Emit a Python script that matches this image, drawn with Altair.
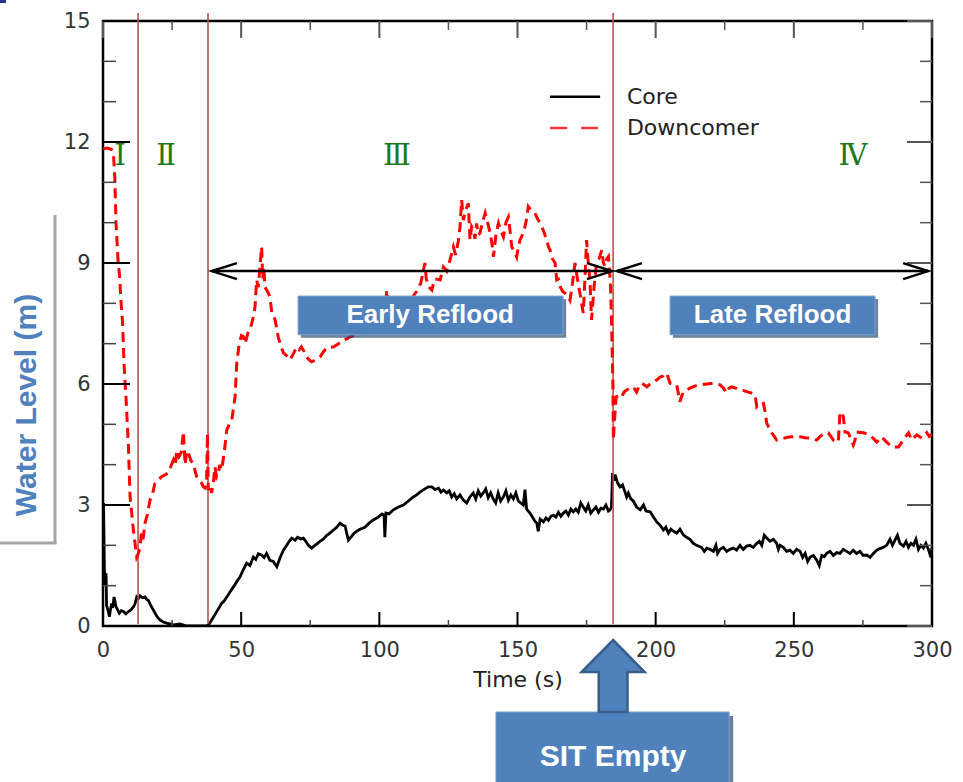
import altair as alt
import pandas as pd

W, H = 829, 605

# ---------------- data ----------------
core_t = [0.0, 0.2, 0.5, 0.8, 1.1, 1.3, 1.8, 2.3, 2.7, 3.1, 3.5, 4.0, 4.7, 5.3, 5.9, 6.6, 7.4, 8.3, 9.2, 10.1,
          11.0, 11.6, 12.2, 12.8, 13.4, 14.3, 15.2, 15.8, 16.4, 17.0, 17.6, 18.2, 18.8, 19.7, 20.6, 21.8, 23.0,
          24.2, 25.5, 27.9, 30.3, 37.5, 38.4, 39.3, 40.2, 41.1, 42.0, 42.9, 43.8, 44.8, 46.0, 47.2, 48.4, 49.6,
          50.8, 52.0, 53.2, 54.4, 55.3, 56.2, 57.4, 58.3, 59.2, 60.4, 61.6, 62.9, 64.1, 65.3, 66.5, 67.4, 68.3,
          69.5, 70.4, 71.6, 72.5, 73.4, 74.3, 75.5, 76.7, 77.6, 78.5, 79.7, 81.0, 82.2, 83.4, 84.6, 85.8, 86.7,
          87.6, 88.2, 88.8, 89.7, 90.6, 91.8, 93.0, 94.8, 96.3, 97.8, 99.6, 101.0, 101.7, 102.0, 102.4, 103.5,
          105.1, 106.9, 108.7, 110.5, 112.3, 113.5, 114.7, 116.5, 117.7, 119.0, 120.2, 121.4, 122.3, 123.2,
          124.4, 125.3, 126.2, 127.1, 128.0, 129.2, 130.4, 131.6, 132.8, 134.0, 134.9, 135.8, 136.7, 137.6,
          138.5, 139.4, 140.3, 141.2, 142.1, 143.0, 143.9, 144.9, 145.8, 146.7, 147.6, 148.5, 149.4, 150.3,
          151.2, 152.1, 152.7, 153.3, 153.9, 154.5, 155.4, 156.3, 157.0, 157.5, 158.2, 159.4, 160.3, 161.2,
          162.1, 163.0, 163.9, 164.8, 165.7, 166.6, 167.5, 168.4, 169.3, 170.2, 171.1, 172.0, 172.9, 173.8,
          174.7, 175.6, 176.5, 177.5, 178.4, 179.3, 180.2, 181.1, 182.0, 182.9, 183.5, 184.0, 184.4, 184.9,
          185.3, 186.2, 187.1, 188.0, 189.0, 189.5, 190.1, 191.0, 191.9, 193.1, 194.4, 195.6, 196.5, 198.0,
          199.2, 200.4, 201.6, 202.8, 203.7, 204.6, 205.5, 206.4, 207.6, 208.8, 210.0, 211.2, 212.4, 213.6,
          214.8, 216.6, 217.6, 218.5, 219.7, 220.9, 221.8, 222.4, 223.3, 224.5, 225.7, 226.9, 228.1, 229.3,
          230.5, 231.7, 232.9, 234.1, 235.3, 236.6, 237.5, 238.4, 239.3, 240.2, 241.4, 242.6, 243.8, 244.4,
          245.0, 246.2, 247.4, 248.6, 249.8, 251.0, 252.3, 253.2, 254.1, 255.0, 255.9, 257.1, 258.3, 259.2,
          260.1, 261.0, 261.9, 263.1, 264.3, 265.5, 266.7, 267.9, 269.1, 270.3, 271.5, 272.7, 273.9, 275.1,
          276.4, 277.6, 278.8, 280.0, 281.2, 282.4, 283.6, 284.8, 285.7, 286.6, 287.5, 288.4, 289.7, 290.6,
          291.5, 292.4, 293.3, 294.2, 295.1, 296.0, 296.9, 297.8, 298.7, 299.6, 300.0]
core_v = [1.3, 3.05, 1.4, 1.0, 1.31, 0.5, 0.4, 0.23, 0.4, 0.56, 0.45, 0.72, 0.48, 0.4, 0.32, 0.38, 0.36, 0.3,
          0.36, 0.4, 0.47, 0.55, 0.72, 0.68, 0.75, 0.7, 0.72, 0.66, 0.64, 0.55, 0.47, 0.4, 0.32, 0.22, 0.15,
          0.1, 0.07, 0.05, 0.03, 0.05, 0.0, 0.0, 0.05, 0.15, 0.25, 0.35, 0.45, 0.56, 0.62, 0.72, 0.85, 0.97,
          1.1, 1.22, 1.4, 1.56, 1.5, 1.71, 1.65, 1.79, 1.76, 1.7, 1.8, 1.63, 1.6, 1.47, 1.7, 1.88, 2.0, 2.1,
          2.18, 2.13, 2.2, 2.16, 2.18, 2.1, 2.0, 1.93, 2.0, 2.05, 2.1, 2.15, 2.25, 2.31, 2.38, 2.45, 2.55, 2.5,
          2.48, 2.3, 2.13, 2.2, 2.28, 2.35, 2.4, 2.45, 2.55, 2.63, 2.7, 2.78, 2.75, 2.2, 2.8, 2.78, 2.88, 2.95,
          3.0, 3.1, 3.2, 3.25, 3.32, 3.4, 3.45, 3.45, 3.38, 3.42, 3.32, 3.37, 3.3, 3.35, 3.2, 3.28, 3.15, 3.25,
          3.12, 3.05, 3.2, 3.3, 3.15, 3.35, 3.22, 3.3, 3.4, 3.18, 3.3, 3.15, 3.05, 3.3, 3.1, 3.2, 3.35, 3.12,
          3.25, 3.15, 3.3, 3.1, 3.05, 3.0, 3.38, 2.9, 2.85, 2.8, 2.7, 2.6, 2.55, 2.35, 2.65, 2.58, 2.68, 2.62,
          2.72, 2.75, 2.7, 2.82, 2.72, 2.8, 2.85, 2.75, 2.9, 2.83, 2.9, 2.82, 3.05, 2.95, 2.85, 3.0, 2.8, 2.88,
          2.95, 2.82, 2.92, 2.9, 3.0, 2.85, 2.88, 2.95, 3.79, 3.6, 3.75, 3.55, 3.45, 3.5, 3.3, 3.2, 3.3, 3.15,
          3.1, 2.95, 2.88, 3.0, 2.85, 2.83, 2.7, 2.58, 2.5, 2.38, 2.45, 2.3, 2.4, 2.35, 2.3, 2.4, 2.26, 2.2,
          2.15, 2.05, 2.0, 1.95, 1.85, 1.93, 1.9, 1.85, 2.0, 1.8, 1.9, 1.95, 1.85, 1.9, 1.93, 1.88, 2.0, 1.9,
          1.98, 2.0, 1.95, 2.05, 2.1, 2.0, 2.25, 2.18, 2.1, 2.15, 2.05, 1.9, 2.0, 1.95, 1.85, 1.88, 1.8, 1.9,
          1.85, 1.7, 1.8, 1.6, 1.71, 1.75, 1.63, 1.5, 1.75, 1.72, 1.8, 1.85, 1.75, 1.82, 1.8, 1.9, 1.85, 1.8,
          1.88, 1.8, 1.85, 1.75, 1.76, 1.7, 1.8, 1.88, 1.92, 1.95, 2.0, 2.15, 2.0, 2.13, 2.25, 2.05, 1.98,
          2.1, 1.95, 2.05, 2.0, 2.15, 1.9, 2.0, 1.93, 2.05, 1.9, 1.7, 1.95]

dc_t = [0.0, 1.5, 3.0, 3.8, 4.3, 4.7, 5.5, 6.0, 6.4, 7.1, 7.6, 8.3, 9.2, 9.8, 11.0, 12.2, 12.8, 13.4, 13.9,
        14.5, 15.2, 16.0, 17.0, 18.0, 18.8, 20.0, 21.2, 22.5, 23.6, 24.5, 25.5, 26.2, 26.7, 27.5, 28.3, 29.1,
        29.7, 30.3, 30.9, 31.8, 32.7, 33.3, 33.9, 34.8, 35.7, 36.3, 36.9, 37.5, 37.8, 38.1, 38.7, 39.3, 40.0,
        40.5, 41.1, 41.7, 42.3, 42.9, 43.5, 44.2, 44.8, 45.7, 46.6, 47.2, 47.8, 48.4, 49.3, 50.1, 50.8, 51.4,
        52.0, 52.6, 53.2, 53.8, 54.4, 55.0, 55.6, 56.2, 56.8, 57.4, 57.8, 58.2, 58.6, 59.5, 60.4, 61.1, 62.3,
        63.4, 64.3, 65.3, 66.5, 67.7, 68.9, 70.1, 71.0, 71.8, 72.8, 73.7, 74.6, 75.5, 77.0, 78.5, 79.8, 81.0,
        82.2, 83.4, 85.2, 87.0, 88.2, 89.4, 91.0, 93.0, 94.8, 96.6, 98.5, 100.5, 102.0, 102.7, 103.5, 105.5,
        107.5, 109.5, 111.5, 113.5, 115.0, 116.5, 117.0, 118.0, 119.0, 120.0, 120.8, 122.0, 123.2, 124.4,
        125.6, 126.8, 127.6, 128.6, 129.2, 129.8, 130.4, 131.2, 132.2, 132.8, 133.4, 134.0, 134.6, 135.2,
        135.8, 136.4, 137.3, 138.3, 139.2, 140.1, 140.7, 141.3, 142.2, 143.1, 144.0, 144.9, 145.8, 146.7,
        147.3, 147.9, 148.8, 149.7, 150.3, 150.9, 151.8, 152.7, 153.3, 153.9, 155.0, 156.3, 157.2, 158.2,
        159.4, 160.6, 161.2, 161.8, 162.7, 163.6, 164.2, 164.8, 165.4, 166.3, 167.2, 168.1, 169.0, 169.9,
        170.8, 171.7, 172.6, 173.2, 173.8, 174.4, 175.0, 175.6, 176.2, 176.8, 177.7, 178.6, 179.5, 180.5,
        181.1, 181.7, 182.3, 182.9, 183.3, 183.7, 184.1, 184.5, 184.7, 185.0, 185.3, 185.7, 186.5, 187.1,
        187.8, 188.6, 189.5, 190.7, 191.9, 193.1, 194.0, 195.0, 196.8, 198.0, 199.2, 200.4, 201.6, 202.8,
        204.0, 205.2, 206.4, 207.6, 208.8, 209.4, 210.0, 211.2, 212.4, 214.2, 216.1, 218.5, 220.9, 222.1,
        223.3, 224.5, 225.7, 226.6, 227.5, 229.0, 230.5, 231.7, 232.9, 234.5, 236.0, 236.6, 237.8, 239.0,
        239.6, 240.2, 241.1, 242.0, 242.9, 243.8, 245.0, 246.2, 247.7, 249.2, 250.8, 252.3, 254.1, 255.9,
        257.1, 258.3, 259.5, 260.7, 261.6, 262.5, 263.4, 264.3, 265.2, 266.1, 266.7, 267.3, 267.9, 268.5,
        269.1, 269.7, 270.6, 271.5, 272.1, 272.7, 274.0, 275.2, 276.4, 277.6, 278.8, 280.0, 280.9, 281.8,
        282.7, 283.6, 284.5, 285.4, 286.6, 287.9, 288.5, 289.1, 290.3, 291.5, 292.1, 292.7, 293.6, 294.5,
        295.4, 296.3, 297.2, 298.1, 299.0, 300.0]
dc_v = [11.83, 11.85, 11.82, 11.7, 11.06, 10.0, 9.0, 8.7, 8.16, 7.5, 6.5, 5.7, 4.45, 3.2, 2.38, 1.71, 1.8,
        1.96, 2.3, 2.15, 2.55, 2.75, 3.12, 3.3, 3.54, 3.62, 3.7, 3.75, 3.79, 3.95, 4.12, 4.0, 4.36, 4.2, 4.3,
        4.82, 4.0, 4.35, 4.29, 4.1, 4.04, 3.85, 3.7, 3.6, 3.54, 3.45, 3.42, 3.6, 4.78, 3.37, 3.5, 3.3, 3.6,
        3.95, 3.7, 3.79, 4.0, 3.87, 4.12, 4.5, 4.86, 5.0, 5.1, 5.4, 5.68, 6.52, 7.0, 7.2, 7.17, 7.0, 7.15,
        7.3, 7.34, 7.5, 7.66, 7.9, 8.58, 8.4, 8.9, 9.4, 8.6, 8.9, 8.4, 8.3, 8.16, 7.76, 7.59, 7.17, 6.95,
        6.77, 6.7, 6.6, 6.75, 6.92, 6.85, 6.92, 6.8, 6.67, 6.6, 6.55, 6.6, 6.67, 6.8, 6.9, 6.92, 6.92, 7.0,
        7.09, 7.12, 7.17, 7.2, 7.25, 7.3, 7.26, 7.4, 7.6, 7.8, 8.33, 7.8, 7.75, 7.7, 7.9, 8.1, 8.3, 8.5,
        9.0, 8.6, 8.4, 8.33, 8.6, 8.6, 8.58, 8.9, 8.8, 9.08, 9.4, 9.2, 9.55, 9.9, 10.56, 10.06, 10.3, 10.48,
        9.57, 9.9, 9.82, 9.6, 9.98, 9.7, 9.74, 10.0, 10.24, 10.0, 9.74, 9.5, 9.15, 9.7, 9.99, 9.8, 9.65,
        10.0, 10.14, 9.8, 9.4, 9.3, 9.15, 9.4, 9.57, 9.7, 9.9, 10.1, 10.4, 10.3, 10.24, 10.1, 9.99, 9.8,
        9.57, 9.4, 9.32, 9.1, 9.0, 8.58, 8.6, 8.42, 8.3, 8.25, 8.2, 8.08, 8.5, 9.0, 8.6, 8.25, 8.0, 7.76,
        8.6, 9.57, 9.0, 8.6, 7.59, 8.4, 9.0, 9.1, 9.32, 9.0, 8.92, 9.1, 9.16, 8.8, 8.4, 7.34, 6.1, 4.61,
        5.0, 5.28, 5.68, 5.7, 5.65, 5.7, 5.8, 5.85, 5.9, 5.93, 5.8, 5.95, 6.02, 5.93, 6.0, 6.05, 6.1, 6.17,
        6.2, 6.27, 6.02, 6.0, 5.98, 5.56, 5.7, 5.8, 5.85, 5.9, 5.95, 5.98, 6.0, 6.02, 6.0, 5.98, 5.9, 5.78,
        5.9, 5.93, 5.9, 5.85, 5.84, 5.81, 5.78, 5.73, 5.43, 5.5, 5.52, 5.31, 5.03, 4.9, 4.79, 4.7, 4.61,
        4.63, 4.65, 4.68, 4.69, 4.7, 4.69, 4.67, 4.66, 4.64, 4.61, 4.7, 4.76, 4.78, 4.79, 4.7, 4.61, 4.58,
        4.56, 5.31, 5.25, 5.2, 4.81, 4.8, 4.79, 4.65, 4.49, 4.6, 4.81, 4.8, 4.79, 4.76, 4.73, 4.65, 4.56,
        4.62, 4.69, 4.62, 4.56, 4.5, 4.44, 4.44, 4.44, 4.5, 4.56, 4.68, 4.79, 4.7, 4.61, 4.68, 4.74, 4.7,
        4.66, 4.72, 4.79, 4.7, 4.75]

phase_t = [12.7, 38.0, 184.6]
numeral_labels = ["Ⅰ", "Ⅱ", "Ⅲ", "Ⅳ"]
numeral_t = [6.2, 22.8, 106.4, 271.4]
numeral_v = [11.65, 11.65, 11.65, 11.65]

arrow_start = [39.4, 186.0]
arrow_end = [184.2, 298.6]
arrow_v = 8.8

box_labels = ["Early Reflood", "Late Reflood"]
box_t1 = [70.6, 205.2]
box_t2 = [166.5, 279.4]
box_v1 = [7.22, 7.22]
box_v2 = [8.18, 8.18]
box_tc = [118.4, 242.3]
box_vc = [7.71, 7.71]

sit_t = 184.6
sit_t1, sit_t2 = 142.2, 226.6

legend_names = ["Core", "Downcomer"]
legend_v = [13.12, 12.35]
legend_t1, legend_t2, legend_text_t = 161.8, 179.9, 189.6

x_major = [0, 50, 100, 150, 200, 250, 300]
x_minor = [25, 75, 125, 175, 225, 275]
y_major = [0, 3, 6, 9, 12, 15]
y_minor = [1, 2, 4, 5, 7, 8, 10, 11, 13, 14]

# ---------------- chart ----------------
xs = alt.Scale(domain=[0, 300], nice=False, zero=False)
ys = alt.Scale(domain=[0, 15], nice=False, zero=False)
BLUE = "#4f81bd"
DARK = "#385d8a"
LABEL_FONT = "DejaVu Sans"

XAX = alt.Axis(values=x_major, ticks=False, domain=False, grid=False, labelFlush=False,
               labelFont=LABEL_FONT, labelFontSize=21, labelColor="#333", labelPadding=13,
               title="Time (s)", titleFont=LABEL_FONT, titleFontSize=22, titleFontWeight="normal",
               titleColor="#222", titlePadding=9)
YAX = alt.Axis(values=y_major, ticks=False, domain=False, grid=False, labelFlush=False,
               labelFont=LABEL_FONT, labelFontSize=21, labelColor="#333", labelPadding=13, title="")


def X(field):
    return alt.X(field, type="quantitative", scale=xs, axis=XAX)


def Y(field):
    return alt.Y(field, type="quantitative", scale=ys, axis=YAX)


core_df = pd.DataFrame({"t": core_t, "v": core_v})
dc_df = pd.DataFrame({"t": dc_t, "v": dc_v})

core = alt.Chart(core_df).mark_line(color="black", strokeWidth=2.8, clip=True).encode(x=X("t"), y=Y("v"))
dc = alt.Chart(dc_df).mark_line(color="#ff0000", strokeWidth=3, strokeDash=[10, 6], clip=True).encode(
    x=X("t"), y=Y("v"))


def xtick(vals, length, width, color, top):
    df = pd.DataFrame({"t": vals})
    y0, y1 = (0, length) if top else (H, H - length)
    return alt.Chart(df).mark_rule(color=color, strokeWidth=width).encode(
        x=X("t"), y=alt.value(y0), y2=alt.value(y1))


def ytick(vals, length, width, color, right):
    df = pd.DataFrame({"v": vals})
    x0, x1 = (W, W - length) if right else (0, length)
    return alt.Chart(df).mark_rule(color=color, strokeWidth=width).encode(
        y=Y("v"), x=alt.value(x0), x2=alt.value(x1))


ticks = [
    xtick(x_major, 14, 2, "black", False), xtick(x_minor, 6, 1.5, "#444", False),
    xtick(x_major, 17, 2, "#555", True), xtick(x_minor, 9, 1.5, "#555", True),
    ytick(y_major, 27, 2, "black", False), ytick(y_minor, 13, 1.5, "#444", False),
    ytick(y_major, 25, 2, "#555", True), ytick(y_minor, 12, 1.5, "#555", True),
]

phase = alt.Chart(pd.DataFrame({"t": phase_t})).mark_rule(color="#c0504d", strokeWidth=1.6).encode(
    x=X("t"), y=alt.value(-8), y2=alt.value(H - 2))

numerals = alt.Chart(pd.DataFrame({"t": numeral_t, "v": numeral_v, "lab": numeral_labels})).mark_text(
    font="DejaVu Serif", fontSize=29, color="#1a7a1a", align="center", baseline="middle").encode(
    x=X("t"), y=Y("v"), text="lab:N")

arr_df = pd.DataFrame({"t1": arrow_start, "t2": arrow_end, "v": [arrow_v, arrow_v]})
arr_lines = alt.Chart(arr_df).mark_rule(color="black", strokeWidth=2.5).encode(
    x=X("t1"), x2="t2:Q", y=Y("v"))
left_heads = alt.Chart(pd.DataFrame({"t": arrow_start, "v": [arrow_v, arrow_v]})).mark_point(
    shape="M1,-0.32L0,0L1,0.32", filled=False, stroke="black", strokeWidth=2.5, size=2500, opacity=1).encode(
    x=X("t"), y=Y("v"))
right_heads = alt.Chart(pd.DataFrame({"t": arrow_end, "v": [arrow_v, arrow_v]})).mark_point(
    shape="M-1,-0.32L0,0L-1,0.32", filled=False, stroke="black", strokeWidth=2.5, size=2500, opacity=1).encode(
    x=X("t"), y=Y("v"))

box_df = pd.DataFrame({"t1": box_t1, "t2": box_t2, "v1": box_v1, "v2": box_v2,
                       "tc": box_tc, "vc": box_vc, "lab": box_labels})
box_shadow = alt.Chart(box_df).mark_rect(color="#2c4a70", opacity=0.7, xOffset=3, x2Offset=3,
                                         yOffset=3, y2Offset=3).encode(
    x=X("t1"), x2="t2:Q", y=Y("v1"), y2="v2:Q")
box_rect = alt.Chart(box_df).mark_rect(fill=BLUE, stroke="#7ea3d0", strokeWidth=1).encode(
    x=X("t1"), x2="t2:Q", y=Y("v1"), y2="v2:Q")
box_text = alt.Chart(box_df).mark_text(font="Liberation Sans", fontWeight="bold", fontSize=26, color="white",
                                       align="center", baseline="middle").encode(
    x=X("tc"), y=Y("vc"), text="lab:N")

sit_df = pd.DataFrame({"t1": [sit_t1], "t2": [sit_t2], "t": [sit_t], "lab": ["SIT Empty"]})
sit_shadow = alt.Chart(sit_df).mark_rect(color="#2c4a70", opacity=0.7, xOffset=4, x2Offset=4, yOffset=4,
                                         y2Offset=4).encode(
    x=X("t1"), x2="t2:Q", y=alt.value(691), y2=alt.value(800))
sit_rect = alt.Chart(sit_df).mark_rect(fill=BLUE, stroke="#7ea3d0", strokeWidth=1).encode(
    x=X("t1"), x2="t2:Q", y=alt.value(691), y2=alt.value(800))
sit_text = alt.Chart(sit_df).mark_text(font="Liberation Sans", fontWeight="bold", fontSize=30, color="white",
                                       align="center", baseline="middle").encode(
    x=X("t"), y=alt.value(736), text="lab:N")
sit_arrow = alt.Chart(sit_df).mark_point(
    shape="M0,-1L0.875,-0.11L0.4,-0.11L0.4,1L-0.4,1L-0.4,-0.11L-0.875,-0.11Z",
    filled=True, fill=BLUE, stroke=DARK, strokeWidth=2.5, size=5184, opacity=1).encode(
    x=X("t"), y=alt.value(655))

leg_df = pd.DataFrame({"name": legend_names, "v": legend_v, "t1": [legend_t1] * 2,
                       "t2": [legend_t2] * 2, "tt": [legend_text_t] * 2})
leg_core = alt.Chart(leg_df.iloc[:1]).mark_rule(color="black", strokeWidth=2.5).encode(
    x=X("t1"), x2="t2:Q", y=Y("v"))
leg_dc = alt.Chart(leg_df.iloc[1:]).mark_rule(color="#ff3333", strokeWidth=2.5, strokeDash=[17, 14]).encode(
    x=X("t1"), x2="t2:Q", y=Y("v"))
leg_text = alt.Chart(leg_df).mark_text(font=LABEL_FONT, fontSize=22, color="#222", align="left",
                                       baseline="middle").encode(
    x=X("tt"), y=Y("v"), text="name:N")

ytitle_df = pd.DataFrame({"lab": ["Water Level (m)"]})
ytitle = alt.Chart(ytitle_df).mark_text(font="Liberation Sans", fontWeight="bold", fontSize=30, color=BLUE,
                                        angle=270, align="center", baseline="middle").encode(
    x=alt.value(-76), y=alt.value(384), text="lab:N")
ybox_v = alt.Chart(ytitle_df).mark_rule(color="#a6a6a6", strokeWidth=3).encode(
    x=alt.value(-48), y=alt.value(194), y2=alt.value(523))
ybox_h = alt.Chart(ytitle_df).mark_rule(color="#a6a6a6", strokeWidth=3).encode(
    x=alt.value(-103), x2=alt.value(-46.5), y=alt.value(522))
corner = alt.Chart(ytitle_df).mark_rect(color="#2e3192").encode(
    x=alt.value(-103), x2=alt.value(-97), y=alt.value(-21), y2=alt.value(-18))

chart = alt.layer(
    core, phase, dc, *ticks, numerals, arr_lines, left_heads, right_heads,
    box_shadow, box_rect, box_text, leg_core, leg_dc, leg_text,
    sit_shadow, sit_rect, sit_text, sit_arrow, ytitle, ybox_v, ybox_h, corner,
).properties(
    width=W, height=H, autosize=alt.AutoSizeParams(type="none"),
    padding={"left": 103, "top": 21, "right": 31, "bottom": 156},
    background="white",
).configure_view(stroke="black", strokeWidth=2.5)

chart.save("out.html", embed_options={"renderer": "svg", "actions": False})
